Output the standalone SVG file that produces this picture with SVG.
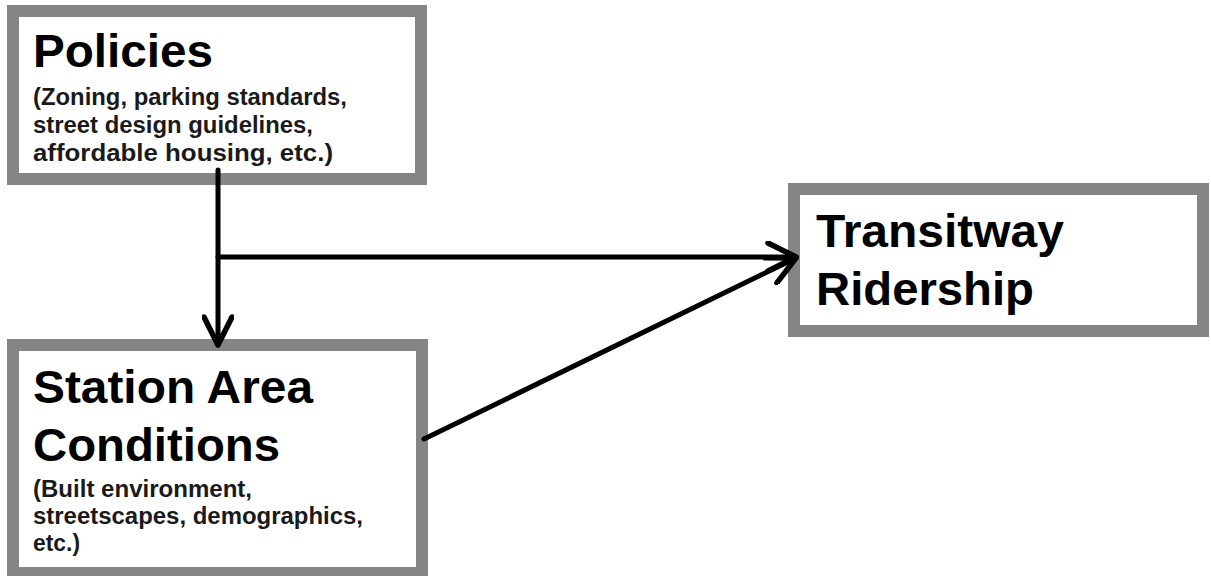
<svg xmlns="http://www.w3.org/2000/svg" width="1211" height="576" viewBox="0 0 1211 576">
<style>
.box{fill:#fff;stroke:#858585;stroke-width:12}
.h{font-family:"Liberation Sans",Arial,sans-serif;font-weight:bold;font-size:47px;fill:#000}
.s{font-family:"Liberation Sans",Arial,sans-serif;font-weight:bold;font-size:23px;fill:#1a1a1a}
.c{stroke:#000;stroke-width:5;fill:none;stroke-linecap:round}
</style>
<defs>
<marker id="arr" markerUnits="userSpaceOnUse" viewBox="0 0 34 32" markerWidth="34" markerHeight="32" refX="31" refY="16" orient="auto">
<path d="M3,2 L31,16 L3,30" fill="none" stroke="#000" stroke-width="5.5" stroke-linecap="round" stroke-linejoin="round"/>
</marker>
</defs>
<rect width="1211" height="576" fill="#fff"/>
<g id="policies">
<rect class="box" x="13" y="11" width="408" height="168"/>
<text class="h" x="33" y="67" textLength="180" lengthAdjust="spacingAndGlyphs">Policies</text>
<text class="s" x="33" y="105" textLength="314" lengthAdjust="spacingAndGlyphs">(Zoning, parking standards,</text>
<text class="s" x="33" y="133" textLength="280" lengthAdjust="spacingAndGlyphs">street design guidelines,</text>
<text class="s" x="33" y="161" textLength="300" lengthAdjust="spacingAndGlyphs">affordable housing, etc.)</text>
</g>
<g id="station">
<rect class="box" x="13" y="345" width="409" height="228"/>
<text class="h" x="33" y="403" textLength="280" lengthAdjust="spacingAndGlyphs">Station Area</text>
<text class="h" x="33" y="461" textLength="247" lengthAdjust="spacingAndGlyphs">Conditions</text>
<text class="s" x="33" y="497" textLength="219" lengthAdjust="spacingAndGlyphs">(Built environment,</text>
<text class="s" x="33" y="524" textLength="330" lengthAdjust="spacingAndGlyphs">streetscapes, demographics,</text>
<text class="s" x="33" y="551" textLength="47" lengthAdjust="spacingAndGlyphs">etc.)</text>
</g>
<g id="ridership">
<rect class="box" x="794" y="189" width="409" height="142"/>
<text class="h" x="816" y="247" textLength="248" lengthAdjust="spacingAndGlyphs">Transitway</text>
<text class="h" x="816" y="305" textLength="218" lengthAdjust="spacingAndGlyphs">Ridership</text>
</g>
<g id="connectors">
<path class="c" d="M218,170 L218,345" marker-end="url(#arr)"/>
<path class="c" d="M218,257 L796,257" marker-end="url(#arr)"/>
<path class="c" d="M424,439 L796,258" marker-end="url(#arr)"/>
</g>
</svg>
